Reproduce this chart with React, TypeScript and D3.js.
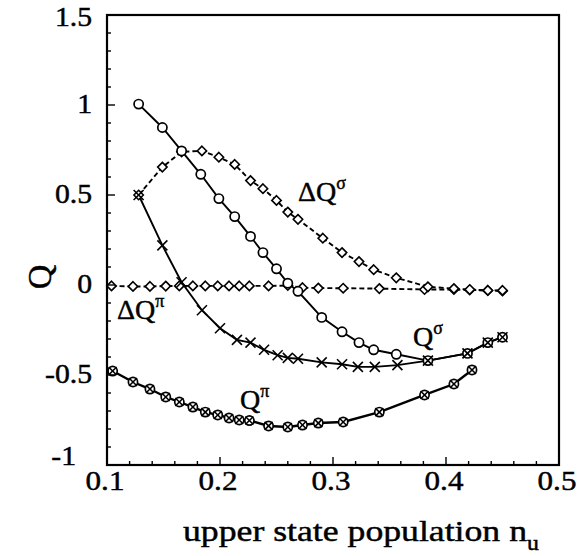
import React from "react";
import * as d3 from "d3";

// ---- data ----
const qSigmaCircX = [0.128, 0.149, 0.166, 0.183, 0.199, 0.213, 0.227, 0.238, 0.25, 0.26, 0.269, 0.29, 0.308, 0.323, 0.336, 0.356, 0.384, 0.419, 0.437, 0.45];
const qSigmaCircY = [1.005, 0.875, 0.745, 0.615, 0.48, 0.38, 0.27, 0.18, 0.09, 0.01, -0.035, -0.18, -0.26, -0.32, -0.36, -0.385, -0.42, -0.38, -0.32, -0.29];

const qSigmaCrossX = [0.128, 0.149, 0.166, 0.184, 0.2, 0.215, 0.227, 0.239, 0.251, 0.26, 0.269, 0.29, 0.308, 0.322, 0.337, 0.357, 0.384, 0.419, 0.437, 0.45];
const qSigmaCrossY = [0.5, 0.22, 0.015, -0.14, -0.24, -0.305, -0.32, -0.36, -0.39, -0.405, -0.41, -0.43, -0.44, -0.455, -0.455, -0.445, -0.42, -0.38, -0.32, -0.29];

const dQSigmaX = [0.128, 0.149, 0.166, 0.184, 0.199, 0.213, 0.227, 0.238, 0.25, 0.26, 0.269, 0.291, 0.308, 0.323, 0.336, 0.356, 0.384, 0.407, 0.421, 0.437, 0.45];
const dQSigmaY = [0.5, 0.655, 0.74, 0.745, 0.71, 0.67, 0.58, 0.535, 0.47, 0.405, 0.365, 0.26, 0.18, 0.13, 0.085, 0.04, -0.01, -0.02, -0.025, -0.03, -0.03];

const dQPiX = [0.104, 0.123, 0.138, 0.152, 0.164, 0.176, 0.187, 0.198, 0.208, 0.217, 0.226, 0.243, 0.26, 0.273, 0.287, 0.309, 0.341, 0.381, 0.407, 0.421, 0.437, 0.45];
const dQPiY = [-0.005, -0.008, -0.008, -0.006, -0.005, -0.005, -0.005, -0.005, -0.005, -0.005, -0.005, -0.005, -0.003, -0.015, -0.017, -0.018, -0.02, -0.025, -0.025, -0.028, -0.03, -0.033];

const qPiX = [0.105, 0.123, 0.138, 0.152, 0.164, 0.176, 0.187, 0.198, 0.208, 0.217, 0.226, 0.243, 0.26, 0.273, 0.287, 0.309, 0.341, 0.381, 0.407, 0.423];
const qPiY = [-0.478, -0.539, -0.578, -0.622, -0.65, -0.678, -0.706, -0.722, -0.739, -0.75, -0.753, -0.783, -0.789, -0.778, -0.767, -0.761, -0.706, -0.611, -0.55, -0.472];

const xTicks = [0.1, 0.2, 0.3, 0.4, 0.5];
const yTicks = [-1, -0.5, 0, 0.5, 1, 1.5];

const W = 577, H = 556;
const L = 107, R = 559, T = 15, B = 465;
const FONT = "Liberation Serif, DejaVu Serif, serif";

const x = d3.scaleLinear().domain([0.1, 0.5]).range([L, R]);
const y = d3.scaleLinear().domain([-1, 1.5]).range([B, T]);

type Pt = [number, number];
const zip = (xs: number[], ys: number[]): Pt[] => xs.map((v, i) => [v, ys[i]]);

const line = d3.line<Pt>().x(d => x(d[0])).y(d => y(d[1]));

const Circle = ({ p }: { p: Pt }) => (
  <circle cx={x(p[0])} cy={y(p[1])} r={4.6} fill="white" stroke="black" strokeWidth={1.7} />
);
const Diamond = ({ p }: { p: Pt }) => {
  const cx = x(p[0]), cy = y(p[1]), s = 4.7;
  return <path d={`M${cx},${cy - s}L${cx + s},${cy}L${cx},${cy + s}L${cx - s},${cy}Z`} fill="white" stroke="black" strokeWidth={1.6} />;
};
const Cross = ({ p, s = 5 }: { p: Pt; s?: number }) => {
  const cx = x(p[0]), cy = y(p[1]);
  return (
    <g stroke="black" strokeWidth={1.6}>
      <line x1={cx - s} y1={cy - s} x2={cx + s} y2={cy + s} />
      <line x1={cx - s} y1={cy + s} x2={cx + s} y2={cy - s} />
    </g>
  );
};

export default function App() {
  const qsc = zip(qSigmaCircX, qSigmaCircY);
  const qsx = zip(qSigmaCrossX, qSigmaCrossY);
  const dqs = zip(dQSigmaX, dQSigmaY);
  const dqp = zip(dQPiX, dQPiY);
  const qp = zip(qPiX, qPiY);

  const xMinor = d3.range(0.1, 0.5001, 0.02);
  const yMinor = d3.range(-1, 1.5001, 0.1);

  const tp = { fontFamily: FONT, fill: "black", stroke: "black", strokeWidth: 0.45 };

  return (
    <svg width={W} height={H} style={{ position: "absolute", left: 0, top: 0, background: "white" }}>
      <rect x={0} y={0} width={W} height={H} fill="white" />
      {/* lines */}
      <path d={line(dqp) || ""} fill="none" stroke="black" strokeWidth={1.9} strokeDasharray="5,3" />
      <path d={line(dqs) || ""} fill="none" stroke="black" strokeWidth={1.9} strokeDasharray="5,3" />
      <path d={line(qsc) || ""} fill="none" stroke="black" strokeWidth={1.9} />
      <path d={line(qsx) || ""} fill="none" stroke="black" strokeWidth={1.9} />
      <path d={line(qp) || ""} fill="none" stroke="black" strokeWidth={2.4} />
      {/* markers */}
      {dqp.map((p, i) => <Diamond key={"dp" + i} p={p} />)}
      {dqs.map((p, i) => <Diamond key={"ds" + i} p={p} />)}
      {qsc.map((p, i) => <Circle key={"sc" + i} p={p} />)}
      {qsx.map((p, i) => <Cross key={"sx" + i} p={p} />)}
      {qp.map((p, i) => <Circle key={"pc" + i} p={p} />)}
      {qp.map((p, i) => <Cross key={"px" + i} p={p} s={4} />)}

      {/* frame */}
      <rect x={L} y={T} width={R - L} height={B - T} fill="none" stroke="black" strokeWidth={2.2} />
      {/* ticks */}
      {xMinor.map((v, i) => {
        const major = xTicks.some(t => Math.abs(t - v) < 1e-6);
        return <line key={"xt" + i} x1={x(v)} x2={x(v)} y1={B} y2={B - (major ? 8 : 4)} stroke="black" strokeWidth={1.4} />;
      })}
      {yMinor.map((v, i) => {
        const major = yTicks.some(t => Math.abs(t - v) < 1e-6);
        return <line key={"yt" + i} x1={L} x2={L + (major ? 8 : 4)} y1={y(v)} y2={y(v)} stroke="black" strokeWidth={1.4} />;
      })}
      {/* tick labels */}
      {xTicks.map(v => (
        <text key={"xl" + v} transform={`translate(${x(v) - 2},490) scale(1.15,1)`} textAnchor="middle" fontSize={27} {...tp}>{String(v)}</text>
      ))}
      {yTicks.map(v => {
        const isMin = v === -1;
        const isMax = v === 1.5;
        const tx = isMin ? 76 : 92;
        const ty = isMin ? y(v) - 9 : isMax ? y(v) + 2 : y(v) - 1;
        return (
          <text key={"yl" + v} transform={`translate(${tx},${ty}) scale(1.1,1)`} dy="0.34em" textAnchor="end" fontSize={27} {...tp}>{String(v)}</text>
        );
      })}
      {/* axis titles */}
      <text transform="translate(183,541) scale(1.19,1)" fontSize={30} {...tp}>
        upper state population n<tspan fontSize={20} dy={9}>u</tspan>
      </text>
      <text transform="translate(51,277) rotate(-90)" textAnchor="middle" fontSize={34} {...tp}>Q</text>

      {/* series labels */}
      <text x={298} y={201} fontSize={28} {...tp}>ΔQ<tspan fontSize={18} dy={-12}>σ</tspan></text>
      <text x={117} y={319} fontSize={28} {...tp}>ΔQ<tspan fontSize={18} dy={-12}>π</tspan></text>
      <text x={413} y={346} fontSize={28} {...tp}>Q<tspan fontSize={18} dy={-12}>σ</tspan></text>
      <text x={240} y={409} fontSize={28} {...tp}>Q<tspan fontSize={18} dy={-12}>π</tspan></text>
    </svg>
  );
}
